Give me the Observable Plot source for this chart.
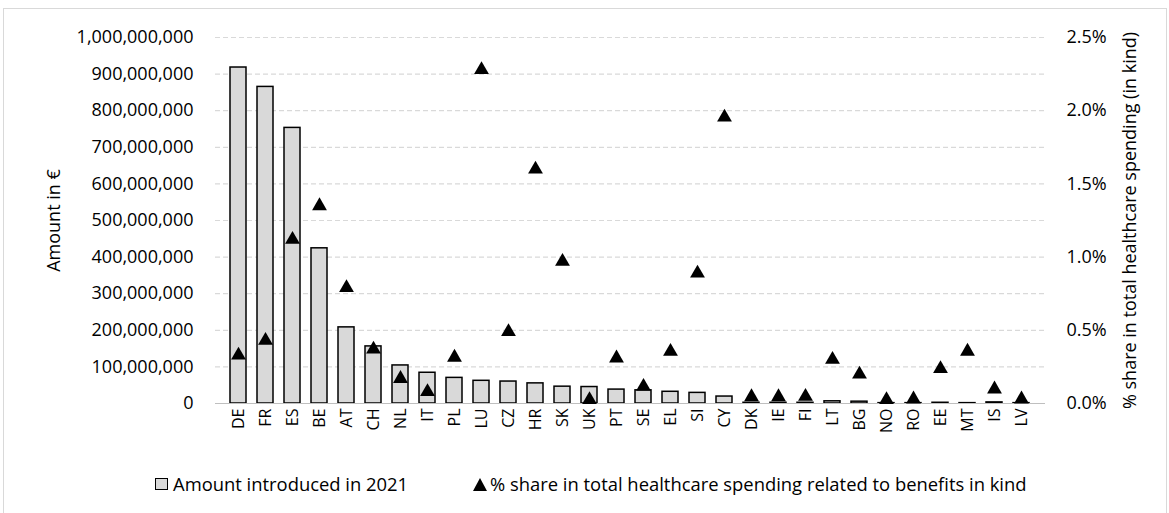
<!DOCTYPE html>
<html>
<head>
<meta charset="utf-8">
<script src="https://cdn.jsdelivr.net/npm/d3@7"></script>
<script src="https://cdn.jsdelivr.net/npm/@observablehq/plot@0.6"></script>
<style>
  body { margin: 0; background: #fff; font-family: "Open Sans", sans-serif; overflow: hidden; }
  #wrap { position: relative; width: 1169px; height: 513px; overflow: hidden; }
  #frame { position: absolute; left: 3px; top: 8px; width: 1164px; height: 510px; border: 1px solid #d9d9d9; box-sizing: border-box; pointer-events: none; }
  #chart { position: absolute; left: 0; top: 0; }
  #legend { position: absolute; top: 471px; left: 0; width: 1169px; height: 26px; font-family: "Open Sans", sans-serif; font-size: 18.4px; line-height: 26px; color: #000; }
  .item { position: absolute; top: 0; height: 26px; display: flex; align-items: center; white-space: nowrap; }
  .sq { width: 13px; height: 12px; background: #d9d9d9; border: 1.5px solid #000; box-sizing: border-box; margin-right: 5px; }
  .tri { width: 0; height: 0; border-left: 7px solid transparent; border-right: 7px solid transparent; border-bottom: 13px solid #000; margin-right: 3px; }
</style>
</head>
<body>
<div id="wrap">
  <div id="chart"></div>
  <div id="frame"></div>
  <div id="legend">
    <div class="item" style="left:155px"><div class="sq"></div><span>Amount introduced in 2021</span></div>
    <div class="item" style="left:473px"><div class="tri"></div><span>% share in total healthcare spending related to benefits in kind</span></div>
  </div>
</div>
<script>
const countries = ["DE","FR","ES","BE","AT","CH","NL","IT","PL","LU","CZ","HR","SK","UK","PT","SE","EL","SI","CY","DK","IE","FI","LT","BG","NO","RO","EE","MT","IS","LV"];
const amounts = [918e6,865e6,753e6,424e6,208e6,156e6,104e6,84e6,70e6,62e6,60e6,55e6,46e6,45e6,38e6,36e6,32e6,29e6,19e6,2e6,2e6,2e6,6e6,5e6,1e6,1e6,2e6,1e6,3e6,1e6];
const shares = [0.33,0.43,1.12,1.35,0.79,0.37,0.17,0.08,0.315,2.28,0.49,1.60,0.97,0.025,0.31,0.116,0.355,0.89,1.955,0.045,0.045,0.048,0.30,0.20,0.025,0.03,0.237,0.356,0.098,0.03];
const leftTicks = d3.range(0, 1e9 + 1, 1e8);
const rightTicks = [0, 0.5, 1.0, 1.5, 2.0, 2.5];
const leftMax = 1e9, rightMax = 2.5;

const data = countries.map((c, i) => ({country: c, amount: amounts[i], share: shares[i]}));
const toLeft = s => s / rightMax * leftMax;

const chart = Plot.plot({
  width: 1169,
  height: 455,
  marginLeft: 215,
  marginRight: 124,
  marginTop: 37,
  marginBottom: 52,
  style: {fontFamily: "Open Sans, sans-serif", fontSize: "16px", color: "#000", background: "transparent"},
  x: {domain: countries, padding: 0.4, tickRotate: -90, tickSize: 0, tickPadding: 5, label: null},
  y: {domain: [0, leftMax], axis: null},
  marks: [
    Plot.gridY(leftTicks, {stroke: "#d9d9d9", strokeOpacity: 1, strokeWidth: 1.2, strokeDasharray: "5,3"}),
    Plot.axisY(leftTicks, {anchor: "left", tickFormat: d3.format(","), tickSize: 0, tickPadding: 22, fontSize: 18,
      label: "Amount in €", labelAnchor: "center", labelArrow: "none", labelOffset: 168}),
    Plot.axisY(rightTicks.map(toLeft), {anchor: "right", tickFormat: d => (d / leftMax * rightMax).toFixed(1) + "%", tickSize: 0, tickPadding: 21, fontSize: 18,
      label: "% share in total healthcare spending (in kind)", labelAnchor: "center", labelArrow: "none", labelOffset: 90}),
    Plot.barY(data, {x: "country", y: "amount", fill: "#d9d9d9", stroke: "#000", strokeWidth: 1.5}),
    Plot.ruleY([0], {stroke: "#bfbfbf", strokeWidth: 1.2}),
    Plot.dot(data, {x: "country", y: d => toLeft(d.share), symbol: "triangle", r: 5.5, fill: "#000", stroke: "none"})
  ]
});
document.getElementById("chart").appendChild(chart);
</script>
</body>
</html>
